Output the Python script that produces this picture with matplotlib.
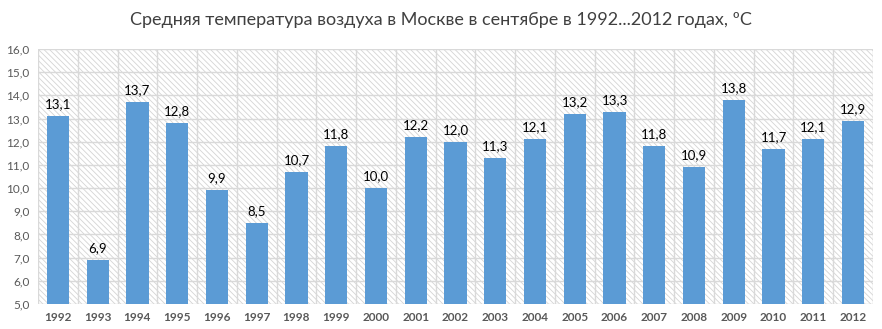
import matplotlib.pyplot as plt
import matplotlib.patches as mpatches
import numpy as np

years = ['1992', '1993', '1994', '1995', '1996', '1997', '1998', '1999', '2000', '2001', '2002',
         '2003', '2004', '2005', '2006', '2007', '2008', '2009', '2010', '2011', '2012']
temps = [13.1, 6.9, 13.7, 12.8, 9.9, 8.5, 10.7, 11.8, 10.0, 12.2, 12.0,
         11.3, 12.1, 13.2, 13.3, 11.8, 10.9, 13.8, 11.7, 12.1, 12.9]
yticks = [5, 6, 7, 8, 9, 10, 11, 12, 13, 14, 15, 16]

plt.rcParams['font.family'] = ['Lato', 'DejaVu Sans']
plt.rcParams['hatch.color'] = '#d4d4d4'
plt.rcParams['hatch.linewidth'] = 0.6

fig = plt.figure(figsize=(8.82, 3.29), dpi=100)
ax = fig.add_axes([38 / 882, 25 / 329, 835 / 882, 255 / 329])

x = np.arange(len(years))
# hatched background of the plot area
ax.add_patch(mpatches.Rectangle((0, 0), 1, 1, transform=ax.transAxes, facecolor='white',
                                edgecolor='#d4d4d4', hatch='\\' * 6, linewidth=0, zorder=0))
for yv in yticks:
    ax.axhline(yv, color='#d9d9d9', linewidth=1, zorder=1)
for xv in np.arange(-0.5, len(years) + 0.5, 1):
    ax.axvline(xv, color='#d9d9d9', linewidth=1, zorder=1)

ax.bar(x, np.array(temps) - 5, bottom=5, width=0.56, color='#5b9bd5', zorder=2)
for xi, t in zip(x, temps):
    ax.text(xi, t + 0.25, ('%.1f' % t).replace('.', ','), ha='center', va='bottom',
            fontsize=9.5, color='#000000', zorder=3)

ax.set_xlim(-0.5, len(years) - 0.5)
ax.set_ylim(5, 16)
ax.set_yticks(yticks)
ax.set_yticklabels([('%.1f' % v).replace('.', ',') for v in yticks], fontsize=8.5, color='#595959')
ax.set_xticks(x)
ax.set_xticklabels(years, fontsize=8.5, fontweight='bold', color='#595959')
ax.tick_params(length=0, pad=6)
for s in ax.spines.values():
    s.set_visible(False)

fig.text(0.5, 1 - 20 / 329, 'Средняя температура воздуха в Москве в сентябре в 1992...2012 годах, ºС',
         ha='center', va='center', fontsize=13, color='#404040')

fig.savefig('out.png', dpi=100)
